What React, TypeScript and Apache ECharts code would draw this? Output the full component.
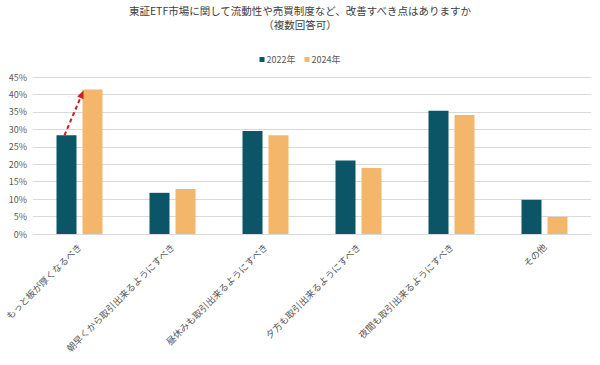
import React, { useEffect, useRef } from "react";
import * as echarts from "echarts";

const categories = [
  "もっと板が厚くなるべき",
  "朝早くから取引出来るようにすべき",
  "昼休みも取引出来るようにすべき",
  "夕方も取引出来るようにすべき",
  "夜間も取引出来るようにすべき",
  "その他",
];
const values2022 = [28.3, 11.8, 29.5, 21.1, 35.3, 9.8];
const values2024 = [41.4, 12.9, 28.3, 18.9, 34.1, 4.9];
const seriesNames = ["2022年", "2024年"];
const titleText = "東証ETF市場に関して流動性や売買制度など、改善すべき点はありますか\n（複数回答可）";

const FONT = "'Noto Sans CJK JP', 'Noto Sans', sans-serif";
const BAR_W = 20;
const GAP = 6;

export default function App() {
  const ref = useRef<HTMLDivElement>(null);
  useEffect(() => {
    document.body.style.margin = "0";
    if (!ref.current) return;
    const chart = echarts.init(ref.current, null, { renderer: "svg" });
    chart.setOption({
      animation: false,
      textStyle: { fontFamily: FONT },
      title: {
        text: titleText,
        left: "center",
        top: 4,
        padding: 0,
        textStyle: { fontSize: 10.5, fontWeight: "normal", color: "#404040", lineHeight: 13.5, fontFamily: FONT },
      },
      legend: {
        top: 55,
        left: "center",
        padding: 0,
        itemWidth: 5,
        itemHeight: 5,
        itemGap: 9,
        icon: "rect",
        textStyle: { fontSize: 9, color: "#595959", fontFamily: FONT, padding: [0, 0, 0, -3] },
        data: seriesNames,
      },
      grid: { left: 33, right: 9, top: 77, bottom: 131, containLabel: false },
      xAxis: {
        type: "category",
        data: categories,
        axisTick: { show: false },
        axisLine: { lineStyle: { color: "#D9D9D9" } },
        axisLabel: { rotate: 45, fontSize: 9.3, color: "#595959", interval: 0, margin: 11, fontFamily: FONT },
      },
      yAxis: {
        type: "value",
        min: 0,
        max: 45,
        interval: 5,
        axisLabel: { formatter: "{value}%", fontSize: 9, color: "#595959", margin: 6, fontFamily: FONT },
        splitLine: { lineStyle: { color: "#D9D9D9" } },
        axisLine: { show: false },
        axisTick: { show: false },
      },
      series: [
        {
          name: seriesNames[0],
          type: "bar",
          data: values2022,
          barWidth: BAR_W,
          barGap: (GAP / BAR_W) * 100 + "%",
          itemStyle: { color: "#0B5567" },
        },
        {
          name: seriesNames[1],
          type: "bar",
          data: values2024,
          barWidth: BAR_W,
          itemStyle: { color: "#F4B66A" },
        },
      ],
    });

    // arrow annotation from 2022 bar top to 2024 bar top (first category)
    const c0 = chart.convertToPixel({ gridIndex: 0 }, [0, values2022[0]]) as number[];
    const c1 = chart.convertToPixel({ gridIndex: 0 }, [0, values2024[0]]) as number[];
    const x0 = c0[0] - (BAR_W + GAP) / 2 - 2;
    const y0 = c0[1];
    const x1 = c1[0] + GAP / 2 + 1;
    const y1 = c1[1] + 1;
    const dx = x1 - x0;
    const dy = y1 - y0;
    const len = Math.sqrt(dx * dx + dy * dy);
    const ux = dx / len;
    const uy = dy / len;
    const headL = 8;
    const headW = 3.5;
    const bx = x1 - ux * headL;
    const by = y1 - uy * headL;
    chart.setOption({
      graphic: [
        {
          type: "line",
          shape: { x1: x0, y1: y0, x2: bx, y2: by },
          style: { stroke: "#D01C1C", lineWidth: 2, lineDash: [4, 3] },
          z: 100,
        },
        {
          type: "polygon",
          shape: {
            points: [
              [x1, y1],
              [bx - uy * headW, by + ux * headW],
              [bx + uy * headW, by - ux * headW],
            ],
          },
          style: { fill: "#D01C1C" },
          z: 100,
        },
      ],
    });
    return () => chart.dispose();
  }, []);
  return <div ref={ref} style={{ width: 600, height: 365 }} />;
}
